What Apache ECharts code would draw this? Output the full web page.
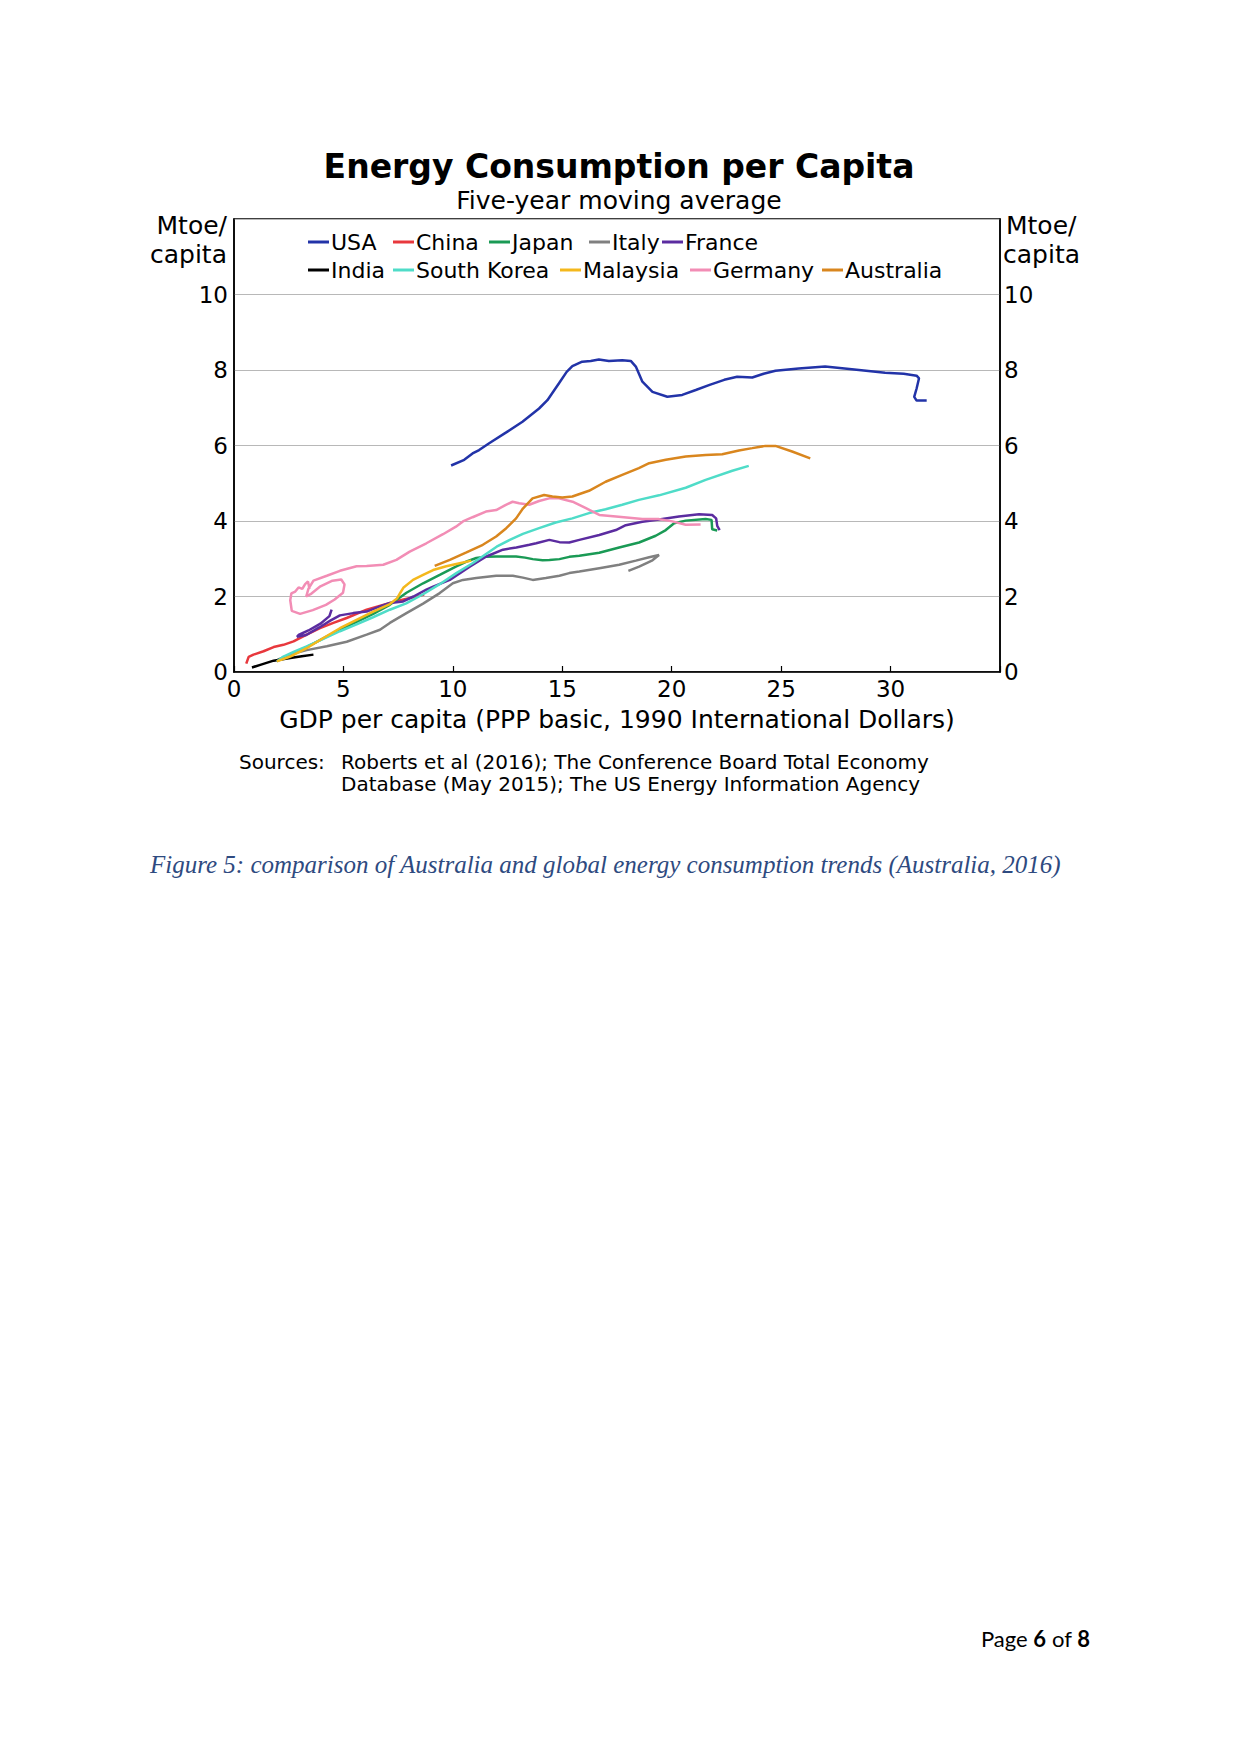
<!DOCTYPE html>
<html>
<head>
<meta charset="utf-8">
<script src="https://cdn.jsdelivr.net/npm/echarts@6/dist/echarts.min.js"></script>
<style>
html,body{margin:0;padding:0;background:#fff;}
#chart{width:1241px;height:1754px;}
</style>
</head>
<body>
<div id="chart"></div>
<script>
// ---- Data (x = GDP per capita, '000 1990 Int$; y = Mtoe/capita) ----
var seriesNames = ['USA','China','Japan','Italy','France','India','South Korea','Malaysia','Germany','Australia'];
var xTicks = [0,5,10,15,20,25,30];
var yTicks = [0,2,4,6,8,10];

var usa = [[9.92,5.47],[10.52,5.62],[10.9,5.79],[11.2,5.88],[11.66,6.06],[12.42,6.34],[13.18,6.63],[13.94,6.98],[14.32,7.2],[14.85,7.65],[15.2,7.95],[15.46,8.1],[15.91,8.22],[16.3,8.24],[16.67,8.28],[17.13,8.24],[17.74,8.26],[18.13,8.24],[18.36,8.09],[18.66,7.69],[19.12,7.42],[19.8,7.29],[20.48,7.34],[21.1,7.47],[21.7,7.6],[22.4,7.74],[22.99,7.82],[23.68,7.8],[24.2,7.9],[24.74,7.98],[25.8,8.04],[27.01,8.09],[28.23,8.02],[29.75,7.93],[30.6,7.9],[31.19,7.85],[31.3,7.78],[31.19,7.51],[31.08,7.29],[31.19,7.19],[31.65,7.19]];
var china = [[0.56,0.22],[0.67,0.40],[0.89,0.46],[1.35,0.55],[1.81,0.66],[2.26,0.72],[2.72,0.81],[3.32,0.99],[3.93,1.16],[4.54,1.30],[5.15,1.43],[6.06,1.65],[6.97,1.80],[7.6,1.9],[8.2,1.98],[8.69,2.05]];
var japan = [[2.0,0.3],[2.6,0.45],[3.3,0.65],[4.1,0.9],[4.84,1.12],[5.6,1.33],[6.36,1.54],[7.12,1.78],[7.5,1.94],[7.88,2.1],[8.64,2.35],[9.4,2.57],[10.16,2.8],[10.6,2.92],[11.07,3.02],[11.5,3.05],[11.98,3.06],[12.89,3.06],[13.3,3.03],[13.65,2.99],[14.1,2.96],[14.41,2.97],[14.87,2.99],[15.32,3.05],[15.78,3.08],[16.69,3.16],[17.6,3.30],[18.51,3.43],[19.27,3.61],[19.73,3.76],[20.11,3.94],[20.64,4.01],[21.55,4.05],[21.82,4.03],[21.85,3.78],[22.08,3.75]];
var italy = [[2.0,0.33],[2.6,0.47],[3.32,0.58],[4.24,0.68],[5.15,0.8],[6.06,0.99],[6.67,1.12],[7.12,1.3],[7.88,1.56],[8.64,1.81],[9.4,2.09],[10.0,2.35],[10.46,2.44],[11.07,2.49],[11.98,2.55],[12.74,2.55],[13.2,2.5],[13.65,2.44],[14.25,2.49],[14.87,2.55],[15.32,2.62],[15.78,2.66],[16.69,2.75],[17.6,2.84],[18.36,2.95],[18.97,3.04],[19.42,3.10],[19.12,2.96],[18.51,2.79],[18.02,2.68]];
var france = [[4.46,1.65],[4.36,1.48],[3.95,1.28],[3.4,1.10],[2.95,0.98],[2.88,0.93],[3.3,0.98],[3.9,1.18],[4.4,1.36],[4.84,1.5],[5.45,1.56],[6.06,1.6],[6.67,1.74],[7.12,1.83],[7.73,1.87],[8.2,2.0],[8.79,2.18],[9.1,2.26],[9.86,2.44],[10.77,2.79],[11.53,3.06],[12.29,3.24],[12.9,3.3],[13.5,3.37],[13.81,3.41],[14.41,3.50],[14.87,3.44],[15.32,3.43],[15.78,3.50],[16.69,3.63],[17.45,3.76],[17.9,3.89],[18.66,3.98],[19.42,4.04],[20.33,4.12],[21.25,4.18],[21.85,4.16],[22.03,4.07],[22.08,3.87],[22.19,3.76]];
var india = [[0.82,0.12],[1.2,0.19],[1.81,0.30],[2.57,0.37],[3.1,0.42],[3.63,0.46]];
var korea = [[1.96,0.28],[2.26,0.41],[2.72,0.53],[3.32,0.68],[4.08,0.88],[4.84,1.08],[5.6,1.26],[6.35,1.45],[7.12,1.65],[7.87,1.82],[8.64,2.06],[9.38,2.32],[10.16,2.62],[10.9,2.88],[11.5,3.12],[12.0,3.32],[12.6,3.50],[13.2,3.66],[13.94,3.81],[14.7,3.96],[15.46,4.07],[16.22,4.21],[16.98,4.31],[17.74,4.43],[18.5,4.56],[19.42,4.68],[20.64,4.88],[21.55,5.09],[22.77,5.33],[23.52,5.46]];
var malaysia = [[1.96,0.28],[2.57,0.41],[3.32,0.63],[4.08,0.9],[4.84,1.16],[5.6,1.38],[6.36,1.6],[7.12,1.8],[7.45,1.95],[7.6,2.1],[7.75,2.24],[8.18,2.44],[8.64,2.57],[9.1,2.7],[9.7,2.8],[10.31,2.88],[10.84,2.95]];
var germany = [[3.45,2.20],[3.38,2.40],[3.25,2.33],[3.12,2.20],[2.95,2.24],[2.80,2.13],[2.62,2.08],[2.57,1.90],[2.64,1.62],[3.02,1.54],[3.60,1.64],[4.20,1.78],[4.60,1.92],[4.98,2.10],[5.05,2.32],[4.90,2.45],[4.50,2.42],[3.95,2.27],[3.50,2.06],[3.30,2.00],[3.40,2.20],[3.63,2.42],[4.24,2.55],[4.84,2.68],[5.6,2.8],[6.06,2.81],[6.82,2.84],[7.42,2.97],[8.03,3.19],[8.79,3.41],[9.55,3.65],[10.14,3.85],[10.46,3.99],[10.9,4.1],[11.51,4.25],[11.98,4.29],[12.4,4.42],[12.73,4.51],[13.03,4.47],[13.49,4.43],[13.94,4.53],[14.4,4.6],[14.85,4.6],[15.47,4.51],[16.08,4.34],[16.69,4.16],[17.45,4.12],[18.66,4.05],[19.42,4.05],[20.03,3.99],[20.64,3.90],[21.32,3.91]];
var australia = [[9.17,2.81],[9.86,2.97],[10.62,3.17],[11.37,3.37],[11.98,3.59],[12.44,3.81],[12.89,4.07],[13.2,4.33],[13.64,4.6],[14.17,4.69],[14.55,4.65],[15.0,4.62],[15.46,4.65],[16.22,4.8],[16.98,5.04],[17.74,5.22],[18.5,5.4],[18.97,5.53],[19.73,5.62],[20.64,5.71],[21.55,5.75],[22.31,5.77],[23.07,5.87],[23.68,5.93],[24.28,5.99],[24.74,5.99],[25.5,5.84],[26.33,5.66]];

var seriesData = [usa, china, japan, italy, france, india, korea, malaysia, germany, australia];
var colors = ['#2233a8','#e8383d','#1a9a55','#808080','#5b2ca0','#000000','#4fdcc8','#f4b81c','#f28db5','#d9861e'];

// ---- Layout ----
var FONT = 'DejaVu Sans';
var legendPos = [[308,231],[393,231],[489,231],[589,231],[662,231],[308,259],[393,259],[560,259],[690,259],[822,259]];

var legends = seriesNames.map(function(n,i){
  return {
    data:[n], left:legendPos[i][0], top:legendPos[i][1], padding:0, itemGap:0,
    icon:'rect', itemWidth:21, itemHeight:3, selectedMode:false,
    textStyle:{fontFamily:FONT, fontSize:22, color:'#000', padding:[0,0,0,-3]}
  };
});

var series = seriesNames.map(function(n,i){
  return {
    name:n, type:'line', data:seriesData[i], showSymbol:false, symbol:'none',
    lineStyle:{color:colors[i], width:2.5}, itemStyle:{color:colors[i]},
    xAxisIndex:0, yAxisIndex:0, animation:false, z: 3
  };
});

var chart = echarts.init(document.getElementById('chart'), null, {renderer:'svg'});
var hide = function(max){ return function(v){ return v===max ? '' : String(v); }; };

chart.setOption({
  backgroundColor:'#fff',
  animation:false,
  title:[
    {text:'Energy Consumption per Capita', left:614, top:145, textAlign:'center',
     textStyle:{fontFamily:FONT, fontWeight:'bold', fontSize:33, color:'#000'}},
    {text:'Five-year moving average', left:614, top:183, textAlign:'center',
     textStyle:{fontFamily:FONT, fontWeight:'normal', fontSize:25, color:'#000'}}
  ],
  legend: legends,
  grid:{left:234, right:241, top:219, bottom:1082, show:true, borderColor:'#000', borderWidth:1.5,
        containLabel:false, outerBoundsMode:'none'},
  xAxis:{
    type:'value', min:0, max:35, interval:5,
    axisLine:{show:true, lineStyle:{color:'#000', width:1.5}},
    axisTick:{show:true, inside:true, length:6, lineStyle:{color:'#000', width:1.2}},
    splitLine:{show:false},
    axisLabel:{fontFamily:FONT, fontSize:23, color:'#000', margin:5, formatter:hide(35)},
    name:'GDP per capita (PPP basic, 1990 International Dollars)',
    nameLocation:'middle', nameGap:35,
    nameTextStyle:{fontFamily:FONT, fontSize:25, color:'#000'}
  },
  yAxis:[
    {type:'value', min:0, max:12, interval:2, position:'left',
     axisLine:{show:true, lineStyle:{color:'#000', width:1.5}},
     axisTick:{show:false},
     splitLine:{show:true, lineStyle:{color:'#b8b8b8', width:1}},
     axisLabel:{fontFamily:FONT, fontSize:23, color:'#000', margin:6, formatter:hide(12)}},
    {type:'value', min:0, max:12, interval:2, position:'right',
     axisLine:{show:true, lineStyle:{color:'#000', width:1.5}},
     axisTick:{show:false},
     splitLine:{show:false},
     axisLabel:{fontFamily:FONT, fontSize:23, color:'#000', margin:4, formatter:hide(12)}}
  ],
  series: series,
  graphic:[
    {type:'text', x:227, y:225, style:{text:'Mtoe/', fontFamily:FONT, fontSize:25, fill:'#000', align:'right', verticalAlign:'middle'}},
    {type:'text', x:227, y:254, style:{text:'capita', fontFamily:FONT, fontSize:25, fill:'#000', align:'right', verticalAlign:'middle'}},
    {type:'text', x:1006, y:225, style:{text:'Mtoe/', fontFamily:FONT, fontSize:25, fill:'#000', align:'left', verticalAlign:'middle'}},
    {type:'text', x:1003, y:254, style:{text:'capita', fontFamily:FONT, fontSize:25, fill:'#000', align:'left', verticalAlign:'middle'}},
    {type:'text', x:239, y:762, style:{text:'Sources:', fontFamily:FONT, fontSize:20, fill:'#000', align:'left', verticalAlign:'middle'}},
    {type:'text', x:341, y:762, style:{text:'Roberts et al (2016); The Conference Board Total Economy', fontFamily:FONT, fontSize:20, fill:'#000', align:'left', verticalAlign:'middle'}},
    {type:'text', x:341, y:784, style:{text:'Database (May 2015); The US Energy Information Agency', fontFamily:FONT, fontSize:20, fill:'#000', align:'left', verticalAlign:'middle'}},
    {type:'text', x:150, y:864, style:{text:'Figure 5: comparison of Australia and global energy consumption trends (Australia, 2016)', fontFamily:'Liberation Serif', fontStyle:'italic', fontSize:25, fill:'#2e4a80', align:'left', verticalAlign:'middle'}},
    {type:'text', x:1090, y:1638, style:{text:'{n|Page }{b|6}{n| of }{b|8}', align:'right', verticalAlign:'middle',
      rich:{n:{fontFamily:'Lato', fontSize:22, fill:'#000'}, b:{fontFamily:'Lato', fontSize:22, fontWeight:'bold', fill:'#000'}}}}
  ]
});
</script>
</body>
</html>
